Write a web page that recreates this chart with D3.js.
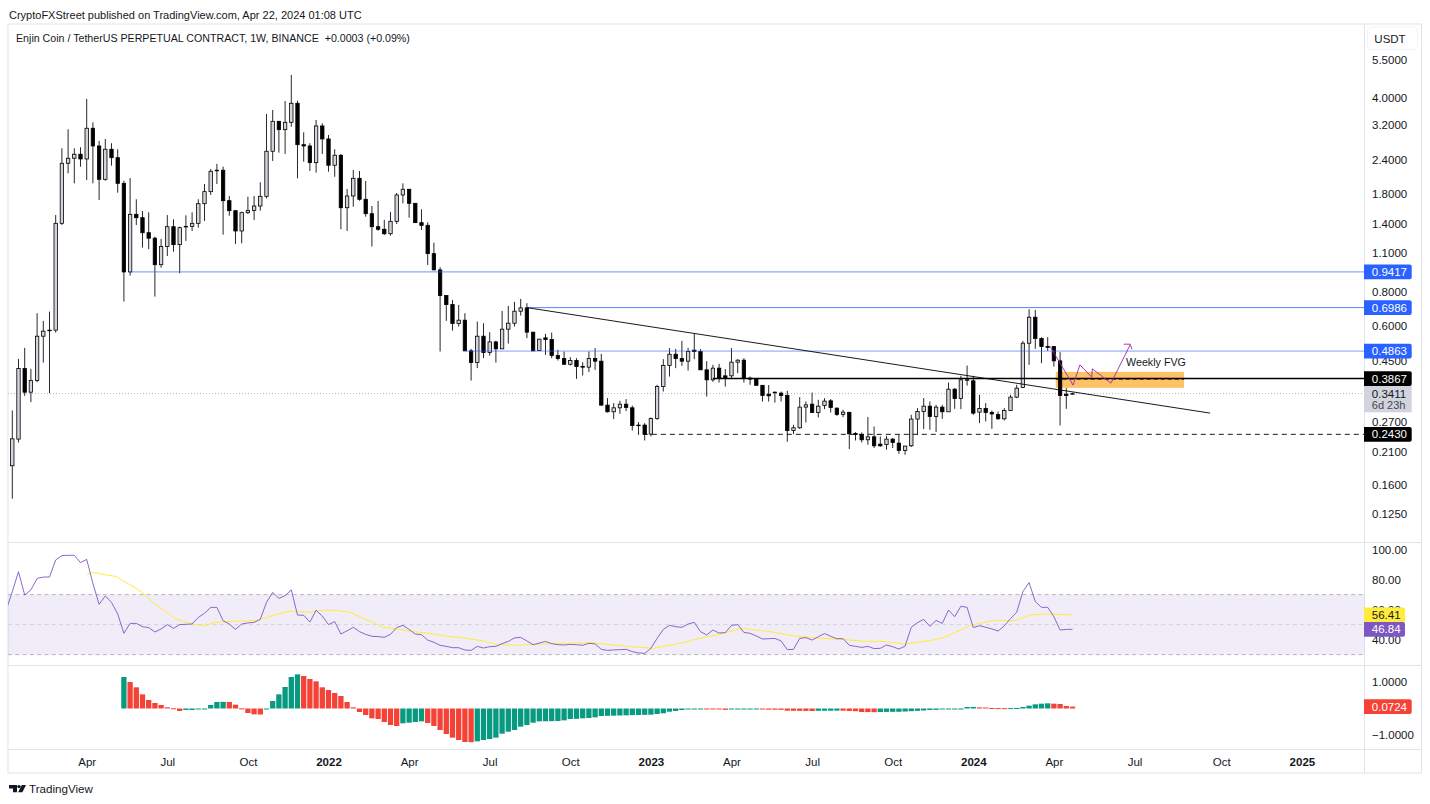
<!DOCTYPE html>
<html>
<head>
<meta charset="utf-8">
<script src="https://cdn.jsdelivr.net/npm/d3@7"></script>
<style>
  html, body { margin: 0; padding: 0; background: #fff; }
  svg { display: block; }
  text { font-family: "Liberation Sans", Arial, sans-serif; fill: #131722; }
  .domain { display: none; }
</style>
</head>
<body>
<div id="chart"></div>
<script>
// weekly candles (index 0 = first candle)
var openV = [
  .1870,.2335,.4204,.3453,.3805,.5505,.5789,.5789,1.410,2.326,
  2.425,2.508,2.411,3.114,2.687,2.035,2.614,2.437,1.968,.9404,
  1.520,1.478,1.304,1.246,.9988,1.162,1.371,1.181,1.375,1.375,
  1.410,1.661,1.836,2.195,2.195,1.703,1.567,1.323,1.541,1.571,
  1.629,1.766,2.571,3.300,3.078,3.272,3.834,2.716,2.687,2.338,
  3.174,2.849,2.288,2.487,1.606,1.771,2.052,1.723,1.528,1.371,
  1.342,1.293,1.434,1.786,1.873,1.666,1.418,1.387,1.0955,.9563,
  .7722,.7164,.6115,.6291,.4872,.4419,.5505,.4803,.5250,.4954,
  .5837,.6135,.6780,.6969,.5693,.4885,.5428,.5352,.4685,.4569,
  .4358,.4494,.4275,.4253,.4569,.4471,.3100,.2932,.3031,.3124,
  .3031,.2625,.2625,.2434,.2773,.3619,.4311,.4737,.4569,.4471,
  .4900,.4844,.4159,.3827,.4218,.3956,.3956,.4434,.4508,.3882,
  .3849,.3656,.3395,.3453,.3425,.3358,.2509,.2566,.3048,.3124,
  .2914,.3089,.3213,.3023,.2867,.2914,.2447,.2425,.2322,.2380,
  .2239,.2233,.2335,.2259,.2125,.2209,.2759,.2939,.3073,.2820,
  .3048,.2932,.3540,.3275,.3827,.3795,.2924,.3013,.2914,.2867,
  .2766,.2964,.3313,.3589,.5193,.6449,.5397,.5050,.5050,.4482,
  .3395,.3408
];
var highV = [
  .2964,.4558,.4995,.4194,.6665,.6255,.6757,1.511,2.636,3.088,
  2.636,2.658,3.974,3.272,2.802,2.849,2.748,2.614,2.011,2.057,
  1.723,1.563,1.546,1.262,1.238,1.511,1.458,1.371,1.508,1.546,
  1.723,1.957,2.218,2.313,2.261,1.771,1.576,1.554,1.761,1.771,
  1.985,3.507,3.626,3.308,3.908,4.854,3.918,3.011,2.748,3.336,
  3.245,2.945,2.614,2.514,1.878,2.200,2.182,2.006,1.629,1.699,
  1.450,1.550,1.816,1.968,1.878,1.666,1.585,1.422,1.2006,.9778,
  .7722,.7450,.7146,.6665,.4954,.6218,.6135,.5693,.5295,.6797,
  .7086,.7326,.7513,.7247,.5693,.5384,.5613,.5674,.4913,.4844,
  .4622,.4584,.4434,.4844,.4983,.4752,.3286,.3152,.3213,.3259,
  .3089,.2691,.2668,.2796,.3670,.4546,.4983,.4954,.5295,.4995,
  .5613,.4942,.4471,.4335,.4372,.4183,.4983,.4546,.4584,.3934,
  .3869,.3665,.3665,.3471,.3471,.3492,.2631,.3313,.3194,.3443,
  .3240,.3286,.3259,.3039,.2981,.2939,.2476,.2468,.2805,.2594,
  .2387,.2400,.2355,.2420,.2209,.2859,.3023,.3286,.3194,.3107,
  .3107,.3741,.3570,.3956,.4311,.3956,.3377,.3152,.2964,.2939,
  .3023,.3377,.3671,.5295,.6894,.6854,.5460,.5460,.5050,.4820,
  .3570,.3440
];
var lowV = [
  .1421,.2270,.3349,.3178,.3754,.4419,.3425,.5674,1.391,2.140,
  1.968,2.261,2.023,1.968,1.713,2.011,2.280,1.820,.7345,.9120,
  1.391,1.152,1.137,.7658,.9748,1.074,1.114,.9302,1.218,1.323,
  1.360,1.438,1.786,1.957,1.283,1.503,1.188,1.194,1.524,1.450,
  1.567,1.737,2.371,2.541,2.514,3.156,2.052,2.357,2.182,2.151,
  2.514,2.169,2.079,1.342,1.323,1.620,1.703,1.490,1.162,1.326,
  1.280,1.273,1.402,1.666,1.478,1.418,1.334,.9966,.9563,.4844,
  .6255,.5769,.5965,.4872,.3805,.4218,.4584,.4685,.4419,.4954,
  .5176,.5965,.6537,.5415,.4872,.4872,.4712,.4584,.4494,.4335,
  .4311,.3859,.3967,.4080,.4159,.3082,.2914,.2759,.2883,.2949,
  .2509,.2420,.2309,.2387,.2743,.3471,.3934,.4218,.4300,.4135,
  .4546,.4159,.3331,.3764,.3741,.3619,.3849,.4045,.3741,.3671,
  .3646,.3194,.3194,.3168,.3194,.2284,.2434,.2545,.2682,.2914,
  .2796,.2998,.2914,.2836,.2805,.2149,.2309,.2270,.2227,.2167,
  .2186,.2137,.2167,.2067,.2049,.2186,.2420,.2539,.2524,.2476,
  .2766,.2932,.3006,.2998,.3646,.2859,.2668,.2705,.2545,.2743,
  .2727,.2956,.3286,.3570,.4335,.4954,.4398,.4872,.4275,.2616,
  .3006,.3395
];
var closeV = [
  .2341,.4204,.3453,.3805,.5505,.5740,.5775,1.410,2.326,2.425,
  2.508,2.411,3.114,2.687,2.035,2.614,2.437,1.968,.9404,1.520,
  1.478,1.304,1.246,.9988,1.162,1.371,1.181,1.360,1.375,1.410,
  1.661,1.836,2.176,2.195,1.703,1.567,1.323,1.541,1.571,1.629,
  1.766,2.571,3.300,3.078,3.272,3.834,2.716,2.687,2.338,3.174,
  2.849,2.288,2.487,1.606,1.771,2.052,1.723,1.528,1.371,1.342,
  1.293,1.434,1.786,1.873,1.666,1.418,1.387,1.0955,.9563,.7722,
  .7164,.6115,.6291,.4872,.4419,.5505,.4803,.5250,.4954,.5837,
  .6135,.6780,.6969,.5693,.4872,.5370,.5352,.4685,.4569,.4358,
  .4494,.4275,.4253,.4569,.4471,.3100,.2932,.3031,.3124,.3039,
  .2616,.2625,.2434,.2773,.3619,.4311,.4737,.4569,.4471,.4844,
  .4844,.4159,.3827,.4218,.3882,.3882,.4434,.4508,.3882,.3849,
  .3656,.3358,.3349,.3453,.3358,.2509,.2566,.3048,.3107,.2914,
  .3073,.3205,.3039,.2867,.2924,.2441,.2425,.2322,.2380,.2209,
  .2209,.2335,.2270,.2125,.2203,.2759,.2939,.3073,.2820,.3048,
  .2932,.3540,.3275,.3827,.3830,.2900,.3013,.2914,.2879,.2766,
  .2964,.3313,.3570,.5193,.6449,.5397,.5050,.5020,.4482,.3358,
  .3358,.3411
];

// RSI, one value per candle, first value sits one candle before the first one
var rsiStart = -1;
var rsiV = [
  59.5,72.0,85.3,69.7,73.1,80.8,81.7,81.7,93.1,96.0,
  96.2,96.2,91.3,93.5,77.5,63.5,69.1,64.8,57.1,44.2,
  50.8,50.8,48.6,48.0,45.1,47.1,50.0,47.5,50.0,50.2,
  50.4,54.8,57.5,61.5,61.5,52.6,50.4,46.8,50.4,51.1,
  51.5,53.5,64.8,71.5,67.5,69.3,73.1,56.4,56.2,51.7,
  59.5,55.7,50.0,52.0,43.7,45.9,48.2,45.3,43.5,42.2,
  42.0,41.5,43.5,48.0,49.5,46.8,43.7,43.3,39.7,38.2,
  36.2,35.5,34.6,34.6,33.1,32.8,35.5,34.4,35.3,35.5,
  37.3,38.8,41.1,41.5,39.1,36.6,37.7,38.8,37.3,36.6,
  36.4,36.8,36.6,36.2,37.5,37.1,33.5,32.8,33.1,33.3,
  33.5,32.0,31.1,30.8,34.2,40.8,46.8,49.5,48.6,48.2,
  50.4,51.5,45.3,43.1,46.4,44.4,44.6,49.5,50.0,44.8,
  44.2,42.4,40.4,40.6,40.8,39.1,33.3,33.5,40.8,41.3,
  39.7,41.9,44.0,42.2,40.6,40.6,36.2,35.5,34.8,35.5,
  34.0,34.2,36.4,35.3,33.7,35.7,48.2,51.3,53.5,48.8,
  52.8,50.8,59.7,55.3,62.2,61.5,48.0,49.3,48.2,47.1,
  45.7,49.1,54.0,58.2,72.0,78.0,65.3,61.5,61.5,55.3,
  46.4,46.8,46.84
];
// RSI moving average, read at these candle positions
var rsiMaIdx = [
  12,13,15.2,16.8,17.9,20,21.1,22.7,24.4,26,27,29,30.3,31.3,32.7,34,35.6,37.8,39.7,42.1,
  44.8,46.4,48.5,49.6,52.3,54.5,56.6,59.8,62,64.7,67.4,69.5,73.3,76,78.1,
  81.7,86.7,93.5,97.2,103.4,107.7,110.8,115.1,117.6,121.9,126.2,129.9,134.2,137.9,140.4,
  144.1,148.4,150.3,154.6,158.3,161.7,164.2,166.3,168.8,171
];
var rsiMaV = [
  83.5,84.8,83.1,82.0,79.1,74.2,70.8,64.8,59.7,54.8,52.8,50.6,49.5,49.7,51.5,51.7,52.2,52.4,53.1,56.2,
  59.1,58.4,58.4,59.5,59.5,58.2,54.2,48.2,47.1,45.3,44.2,42.6,40.8,39.1,36.8,
  36.2,37.3,38.0,36.2,34.2,37.5,40.8,44.6,47.5,45.5,42.4,41.1,40.0,38.8,38.8,
  37.1,39.5,41.5,49.5,52.8,52.6,56.4,57.1,56.8,56.41
];

// MACD histogram, starts at candle 18
var macdStart = 18;
var macdV = [
  1.202,1.011,.808,.541,.324,.210,.134,.045,.008,-.095,
  -.057,-.056,-.025,-.023,.134,.248,.254,.248,.146,.006,
  -.172,-.223,-.229,-.006,.286,.541,.821,1.202,1.304,1.240,
  1.126,1.037,.808,.706,.592,.477,.248,.045,-.134,-.248,
  -.375,-.401,-.515,-.630,-.668,-.566,-.541,-.515,-.490,-.553,
  -.668,-.821,-.973,-1.113,-1.202,-1.279,-1.285,-1.253,-1.202,-1.164,
  -1.113,-.961,-.884,-.821,-.693,-.630,-.541,-.490,-.487,-.483,
  -.477,-.452,-.401,-.394,-.375,-.363,-.337,-.286,-.280,-.274,
  -.267,-.261,-.254,-.248,-.242,-.235,-.210,-.184,-.121,-.095,
  -.057,-.013,-.011,-.010,-.015,-.019,-.023,-.051,-.038,-.032,
  -.025,-.019,-.013,-.019,-.045,-.047,-.051,-.083,-.087,-.089,
  -.092,-.095,-.089,-.087,-.084,-.081,-.084,-.095,-.102,-.134,
  -.137,-.140,-.134,-.130,-.127,-.125,-.115,-.102,-.089,-.076,
  -.057,-.053,-.025,-.013,-.010,-.006,.057,.060,.045,.038,
  .019,.015,.013,.015,.019,.057,.108,.159,.184,.197,
  .184,.172,.095,.0724
];

// axis ticks
var priceTicks = [5.5,4,3.2,2.4,1.8,1.4,1.1,.8,.6,.45,.27,.21,.16,.125];
var rsiTicks = [100,80,60,40];
var macdTicks = [1,-1];
var timeTicks = [12,25,38,51,64,77,90,103,116,129,142,155,168,181,195,208];
var timeLabels = ["Apr","Jul","Oct","2022","Apr","Jul","Oct","2023","Apr","Jul","Oct","2024","Apr","Jul","Oct","2025"];

// drawings on the price pane
var levelV = [.9417,.6986,.4863,.3867,.2430];
var levelStart = [19,83,73,113,101.7];
var lastPrice = .3411;
var trendIdx = [83,193.2];
var trendV = [.6986,.2900];
var fvgIdx = [168.3,189];
var fvgV = [.4090,.3580];
var fvgMid = .3849;
var pathIdx = [167.4,171.1,172.2,174.1,174.2,177.2,180.3];
var pathV = [.5050,.3661,.4335,.3913,.4194,.3722,.5121];

var width = 1430, height = 804;
var paneLeft = 8, axisX = 1364.5, paneRight = 1421.5, paneTop = 24;
var paneMain = 542.5, paneRsi = 665.5, paneMacd = 749.5, paneBottom = 773;
var frameColor = "#e0e3eb";

var svg = d3.select("#chart").append("svg")
  .attr("width", width)
  .attr("height", height);

var x = d3.scaleLinear().domain([-0.6935,218.18]).range([8,1365]);
var y = d3.scaleLog().domain([5.5,.125]).range([60,514.1]);
var yRsi = d3.scaleLinear().domain([100,30]).range([549.6,654.6]);
var yMacd = d3.scaleLinear().domain([1,-1]).range([682.3,734.7]);

var defs = svg.append("defs");
function addClip(id, y0, y1) {
  defs.append("clipPath").attr("id", id).append("rect")
    .attr("x", paneLeft).attr("y", y0).attr("width", axisX - paneLeft).attr("height", y1 - y0);
}
addClip("clip-main", paneTop, paneMain);
addClip("clip-rsi", paneMain, paneRsi);
addClip("clip-macd", paneRsi, paneMacd);

// frame
var frame = svg.append("g").attr("stroke", frameColor).attr("fill", "none");
frame.append("rect").attr("x", paneLeft).attr("y", paneTop).attr("width", paneRight - paneLeft).attr("height", paneBottom - paneTop);
frame.append("line").attr("x1", axisX).attr("x2", axisX).attr("y1", paneTop).attr("y2", paneBottom);
[paneMain, paneRsi, paneMacd].forEach(function(py) {
  frame.append("line").attr("x1", paneLeft).attr("x2", paneRight).attr("y1", py).attr("y2", py);
});

// price pane
var main = svg.append("g").attr("clip-path", "url(#clip-main)");

main.append("rect")
  .attr("x", x(fvgIdx[0])).attr("width", x(fvgIdx[1]) - x(fvgIdx[0]))
  .attr("y", y(fvgV[0])).attr("height", y(fvgV[1]) - y(fvgV[0]))
  .attr("fill", "#ff9800").attr("fill-opacity", .6);

main.append("line")
  .attr("x1", paneLeft).attr("x2", axisX)
  .attr("y1", y(lastPrice)).attr("y2", y(lastPrice))
  .attr("stroke", "#b2b5be").attr("stroke-dasharray", "1,2");

var candles = main.append("g").selectAll("g")
  .data(openV.map(function(o, i) {
    return { i: i, o: o, h: highV[i], l: lowV[i], c: closeV[i] };
  }))
  .join("g");

candles.append("line")
  .attr("x1", function(d) { return x(d.i); })
  .attr("x2", function(d) { return x(d.i); })
  .attr("y1", function(d) { return y(d.h); })
  .attr("y2", function(d) { return y(d.l); })
  .attr("stroke", "#000")
  .attr("stroke-width", .85);

candles.append("rect")
  .attr("x", function(d) { return x(d.i) - 1.7; })
  .attr("width", 3.4)
  .attr("y", function(d) { return y(Math.max(d.o, d.c)); })
  .attr("height", function(d) { return Math.max(Math.abs(y(d.o) - y(d.c)), .6); })
  .attr("fill", function(d) { return d.c > d.o ? "#d1d4dc" : "#000"; })
  .attr("stroke", "#000")
  .attr("stroke-width", .8);

// horizontal levels
var levelStyle = [
  { color: "#2962ff", w: 1.3, a: .55 },
  { color: "#2962ff", w: .8, a: 1 },
  { color: "#2962ff", w: .8, a: .75 },
  { color: "#000", w: 1.5, a: 1 },
  { color: "#000", w: .9, a: 1, dash: "5,4" }
];
levelV.forEach(function(v, k) {
  main.append("line")
    .attr("x1", x(levelStart[k])).attr("x2", axisX)
    .attr("y1", y(v)).attr("y2", y(v))
    .attr("stroke", levelStyle[k].color)
    .attr("stroke-width", levelStyle[k].w)
    .attr("stroke-opacity", levelStyle[k].a)
    .attr("stroke-dasharray", levelStyle[k].dash || null);
});

main.append("line")
  .attr("x1", x(trendIdx[0])).attr("x2", x(trendIdx[1]))
  .attr("y1", y(trendV[0])).attr("y2", y(trendV[1]))
  .attr("stroke", "#000").attr("stroke-width", .9);

main.append("line")
  .attr("x1", x(fvgIdx[0])).attr("x2", x(fvgIdx[1]))
  .attr("y1", y(fvgMid)).attr("y2", y(fvgMid))
  .attr("stroke", "#000").attr("stroke-width", .9).attr("stroke-dasharray", "4,3");

// projected path with open arrow head
main.append("path")
  .attr("d", d3.line()
    .x(function(d, i) { return x(pathIdx[i]); })
    .y(function(d) { return y(d); })(pathV))
  .attr("fill", "none").attr("stroke", "#9c27b0").attr("stroke-width", .9);
var tipX = x(pathIdx[pathIdx.length - 1]), tipY = y(pathV[pathV.length - 1]);
main.append("path")
  .attr("d", "M" + (tipX - 6.5) + "," + (tipY - .7) + "L" + tipX + "," + (tipY - .7) + "L" + (tipX + 1.8) + "," + (tipY + 4.5))
  .attr("fill", "none").attr("stroke", "#9c27b0").attr("stroke-width", .9);

svg.append("text")
  .attr("x", x(fvgIdx[1]) - 58).attr("y", 362.5)
  .attr("dy", ".35em").attr("font-size", 10.7)
  .text("Weekly FVG");

// RSI pane
var rsiPane = svg.append("g").attr("clip-path", "url(#clip-rsi)");
rsiPane.append("rect")
  .attr("x", paneLeft).attr("width", axisX - paneLeft)
  .attr("y", yRsi(70)).attr("height", yRsi(30) - yRsi(70))
  .attr("fill", "#7e57c2").attr("fill-opacity", .11);
[[70,"#b2b5be"],[50,"#d1d4dc"],[30,"#b2b5be"]].forEach(function(b) {
  rsiPane.append("line")
    .attr("x1", paneLeft).attr("x2", axisX)
    .attr("y1", yRsi(b[0])).attr("y2", yRsi(b[0]))
    .attr("stroke", b[1]).attr("stroke-dasharray", "4,3.3");
});
rsiPane.append("path")
  .attr("d", d3.line()
    .x(function(d, i) { return x(rsiMaIdx[i]); })
    .y(function(d) { return yRsi(d); })(rsiMaV))
  .attr("fill", "none").attr("stroke", "#ffeb3b");
rsiPane.append("path")
  .attr("d", d3.line()
    .x(function(d, i) { return x(rsiStart + i); })
    .y(function(d) { return yRsi(d); })(rsiV))
  .attr("fill", "none").attr("stroke", "#7e57c2").attr("stroke-width", .9);

// MACD pane
svg.append("g").attr("clip-path", "url(#clip-macd)")
  .selectAll("rect")
  .data(macdV)
  .join("rect")
  .attr("x", function(d, i) { return x(macdStart + i) - 2.65; })
  .attr("width", 5.3)
  .attr("y", function(d) { return Math.min(yMacd(d), yMacd(0)); })
  .attr("height", function(d) { return Math.max(Math.abs(yMacd(d) - yMacd(0)), 1); })
  .attr("fill", function(d, i) { return i === 0 || d > macdV[i - 1] ? "#089981" : "#f44336"; });

// axes
function styleAxis(g) {
  g.selectAll("text").attr("font-size", 11.5).style("fill", "#131722");
}
svg.append("g").attr("transform", "translate(1365,0)")
  .call(d3.axisRight(y).tickValues(priceTicks).tickSize(0).tickPadding(7).tickFormat(d3.format(".4f")))
  .call(styleAxis);
svg.append("g").attr("transform", "translate(1365,.5)")
  .call(d3.axisRight(yRsi).tickValues(rsiTicks).tickSize(0).tickPadding(7).tickFormat(d3.format(".2f")))
  .call(styleAxis);
svg.append("g").attr("transform", "translate(1365,0)")
  .call(d3.axisRight(yMacd).tickValues(macdTicks).tickSize(0).tickPadding(7).tickFormat(d3.format(".4f")))
  .call(styleAxis);
svg.append("g").attr("transform", "translate(0,755)")
  .call(d3.axisBottom(x).tickValues(timeTicks).tickSize(0).tickPadding(3)
    .tickFormat(function(d, i) { return timeLabels[i]; }))
  .call(styleAxis)
  .selectAll("text")
  .attr("font-weight", function(d, i) { return /^20/.test(timeLabels[i]) ? "bold" : null; });

// price badges on the axis
function badge(cy, w, color, label, textColor) {
  var g = svg.append("g");
  g.append("path")
    .attr("d", "M1364," + (cy - 7.4) + "H" + (1364 + w - 2) + "q2,0 2,2V" + (cy + 5.4) + "q0,2 -2,2H1364z")
    .attr("fill", color);
  g.append("text")
    .attr("x", 1371.8).attr("y", cy).attr("dy", ".35em")
    .attr("font-size", 11.5)
    .style("fill", textColor)
    .text(label);
}
badge(y(levelV[0]), 47.7, "#2962ff", "0.9417", "#fff");
badge(y(levelV[1]), 47.7, "#2962ff", "0.6986", "#fff");
badge(y(levelV[2]), 47.7, "#2962ff", "0.4863", "#fff");
svg.append("rect").attr("x", 1364).attr("y", 386).attr("width", 47.7).attr("height", 26.3).attr("fill", "#d1d4dc");
badge(y(levelV[3]), 47.7, "#000", "0.3867", "#fff");
svg.append("text").attr("x", 1371.8).attr("y", y(lastPrice)).attr("dy", ".35em").attr("font-size", 11.5).text("0.3411");
svg.append("text").attr("x", 1371.8).attr("y", 405.5).attr("dy", ".35em").attr("font-size", 11).style("fill", "#434651").text("6d 23h");
badge(y(levelV[4]), 47.7, "#000", "0.2430", "#fff");
badge(yRsi(56.41), 41, "#ffeb3b", "56.41", "#131722");
badge(yRsi(46.84), 41, "#7e57c2", "46.84", "#fff");
badge(yMacd(.0724), 47.7, "#f44336", "0.0724", "#fff");

// currency box
svg.append("rect")
  .attr("x", 1367.5).attr("y", 27).attr("width", 50).attr("height", 22.5).attr("rx", 4)
  .attr("fill", "#fff").attr("stroke", "#f0f3fa");
svg.append("text").attr("x", 1390).attr("y", 38.5).attr("dy", ".35em")
  .attr("text-anchor", "middle").attr("font-size", 11.5).text("USDT");

// header and footer
svg.append("text").attr("x", 9).attr("y", 15).attr("dy", ".35em").attr("font-size", 11)
  .text("CryptoFXStreet published on TradingView.com, Apr 22, 2024 01:08 UTC");
svg.append("text").attr("x", 16).attr("y", 38.5).attr("dy", ".35em").attr("font-size", 10.65)
  .text("Enjin Coin / TetherUS PERPETUAL CONTRACT, 1W, BINANCE\u00a0\u00a0+0.0003 (+0.09%)");

var logo = svg.append("g").attr("fill", "#131722");
logo.append("path").attr("d", "M9,785h8v7.3h-4v-3.8H9z");
logo.append("circle").attr("cx", 19).attr("cy", 786.6).attr("r", 1.7);
logo.append("path").attr("d", "M26,785l-3.6,7.3h-4.3l3.7,-7.3z");
svg.append("text").attr("x", 29).attr("y", 789).attr("dy", ".35em").attr("font-size", 11.6)
  .text("TradingView");
</script>
</body>
</html>
